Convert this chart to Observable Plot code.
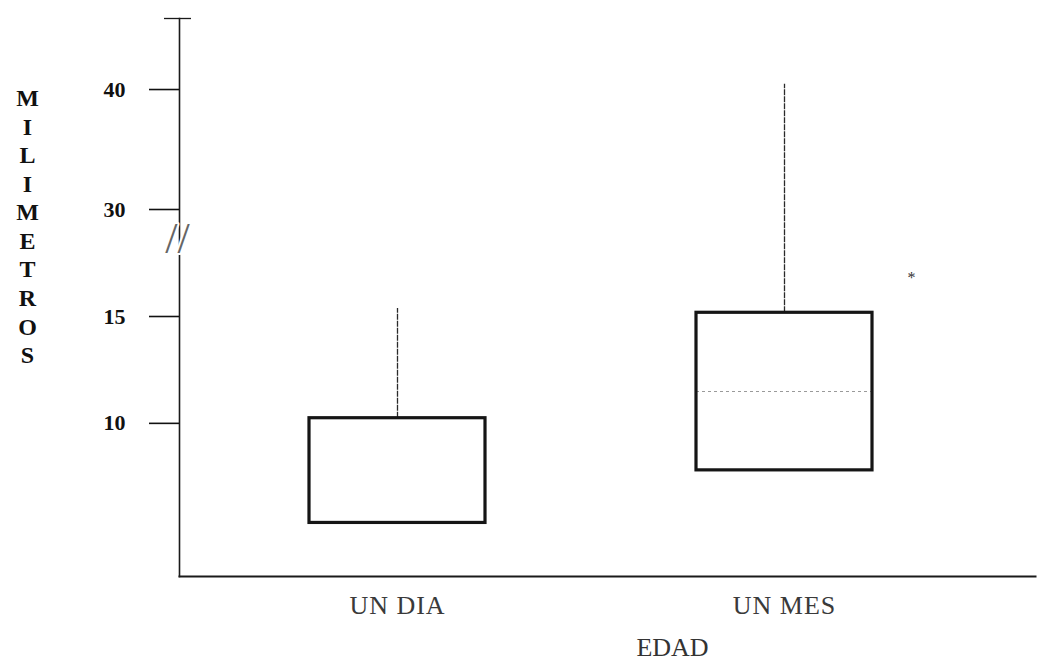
<!DOCTYPE html>
<html>
<head>
<meta charset="utf-8">
<script src="https://cdn.jsdelivr.net/npm/d3@7"></script>
<script src="https://cdn.jsdelivr.net/npm/@observablehq/plot@0.6"></script>
<style>
  html, body { margin: 0; padding: 0; background: #fff; }
  #chart svg { display: block; }
  #chart [aria-label="y-axis tick label"] text { font-weight: bold; fill: #111; }
  #chart [aria-label="x-axis tick label"] text { fill: #3a3a3a; letter-spacing: 1px; }
</style>
</head>
<body>
<div id="chart"></div>
<script>
// ---- data ----
const categories = ["UN DIA", "UN MES"];
const q1 = [5.2, 7.66];
const q3 = [10.1, 15.1];
const medians = [null, 11.35];
const whiskerMin = [5.2, 7.66];
const whiskerMax = [15.7, 40.2];
const outlierCats = ["UN MES"];
const outlierValues = [20.6];
const yTicks = [10, 15, 30, 40];
const yTickLabels = ["10", "15", "30", "40"];
const yTitle = "MILIMETROS";
const xTitle = "EDAD";
// broken axis: piecewise linear scale breakpoints (mm)
const yBreaks = [2.6, 15, 30, 45.67];
const breakValue = 25.5;

const boxes = categories.map((c, i) => ({
  cat: c, q1: q1[i], q3: q3[i], med: medians[i], lo: whiskerMin[i], hi: whiskerMax[i]
}));
const outliers = outlierCats.map((c, i) => ({cat: c, value: outlierValues[i]}));

const chart = Plot.plot({
  width: 1039,
  height: 672,
  marginLeft: 179,
  marginRight: 4,
  marginTop: 18,
  marginBottom: 96,
  style: {background: "white", fontFamily: "'Liberation Serif', 'DejaVu Serif', serif", color: "#111"},
  x: {domain: categories, range: [192.6, 988.4], paddingInner: 0.546, paddingOuter: 0.3, axis: null},
  y: {type: "linear", domain: yBreaks, range: [578, 313, 206, 18], axis: null},
  marks: [
    Plot.frame({anchor: "left", stroke: "#1a1a1a", strokeWidth: 1.6}),
    Plot.frame({anchor: "bottom", stroke: "#1a1a1a", strokeWidth: 2}),
    Plot.axisY({
      ticks: yTicks,
      tickSize: 30,
      tickPadding: 24,
      tickFormat: d => yTickLabels[yTicks.indexOf(d)],
      fontSize: 22,
      dy: 3,
      stroke: "#111",
      strokeWidth: 1.6,
      label: null
    }),
    Plot.axisX({
      tickSize: 0,
      tickPadding: 19,
      fontSize: 26,
      label: null
    }),
    // top cross tick of the y axis
    Plot.ruleY([yBreaks[3]], {dx: -15, insetRight: 829, stroke: "#1a1a1a", strokeWidth: 1.3}),
    // axis break marker
    Plot.text([breakValue], {
      y: d => d, frameAnchor: "left", text: () => "//", fontSize: 44,
      textAnchor: "middle", dx: -2, fill: "#666", stroke: "white", strokeWidth: 4, paintOrder: "stroke"
    }),
    // medians
    Plot.tickY(boxes.filter(d => d.med != null), {
      x: "cat", y: "med", stroke: "#9a9a9a", strokeWidth: 1.2, strokeDasharray: "3,3"
    }),
    // upper whiskers
    Plot.ruleX(boxes, {x: "cat", y1: "q3", y2: "hi", stroke: "#2a2a2a", strokeWidth: 1.3, strokeDasharray: "6,1"}),
    // lower whiskers
    Plot.ruleX(boxes, {x: "cat", y1: "lo", y2: "q1", stroke: "#2a2a2a", strokeWidth: 1.3}),
    // boxes
    Plot.barY(boxes, {
      x: "cat", y1: "q1", y2: "q3", fill: "none", stroke: "#151515", strokeWidth: 3.2
    }),
    // outlier
    Plot.text(outliers, {x: "cat", y: "value", text: () => "*", dx: 127, dy: 4, fontSize: 16, fill: "#333"}),
    // y title (stacked letters)
    Plot.text([yTitle], {
      frameAnchor: "top-left", text: d => d.split("").join("\n"),
      lineHeight: 1.19, lineAnchor: "middle", textAnchor: "middle",
      dx: -152, dy: 207, fontSize: 24, fontWeight: "bold", fill: "#111"
    }),
    // x title
    Plot.text([xTitle], {
      frameAnchor: "bottom", text: d => d, dx: 65, dy: 79,
      fontSize: 26, fill: "#333", letterSpacing: 1
    })
  ]
});
document.getElementById("chart").appendChild(chart);
</script>
</body>
</html>
